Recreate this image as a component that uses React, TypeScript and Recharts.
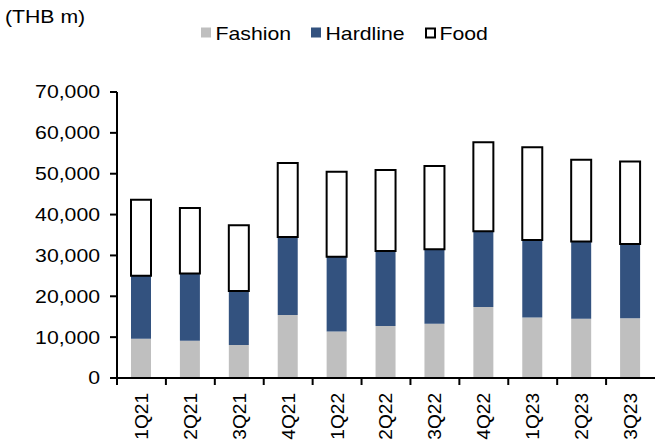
import { BarChart, Bar, XAxis, YAxis } from 'recharts'

// Quarterly sales split by division (THB m)
const quarters = ['1Q21', '2Q21', '3Q21', '4Q21', '1Q22', '2Q22', '3Q22', '4Q22', '1Q23', '2Q23', '3Q23']
const fashion = [9600, 9100, 8100, 15400, 11400, 12700, 13300, 17400, 14800, 14500, 14600]
const hardline = [15400, 16500, 13200, 19100, 18300, 18400, 18200, 18500, 19000, 18900, 18200]
const food = [18600, 16000, 16100, 18100, 20800, 19800, 20400, 21800, 22700, 20000, 20200]
const yTicks = [0, 10000, 20000, 30000, 40000, 50000, 60000, 70000]

const series = [
  { key: 'fashion', name: 'Fashion', fill: '#BFBFBF', stroke: 'none' },
  { key: 'hardline', name: 'Hardline', fill: '#33527F', stroke: 'none' },
  { key: 'food', name: 'Food', fill: '#FFFFFF', stroke: '#000000' },
]

const data = quarters.map((quarter, i) => ({
  quarter,
  fashion: fashion[i],
  hardline: hardline[i],
  food: food[i],
}))

const WIDTH = 655
const HEIGHT = 446
const Y_AXIS_W = 117
const BAND = (WIDTH - Y_AXIS_W) / quarters.length
const FONT = '"Liberation Sans", Arial, sans-serif'
// labels are drawn a little wider than the font's natural width
const STRETCH = 1.18

const textStyle = {
  fontFamily: FONT,
  fontSize: 18,
  fill: '#000',
}

function WideText({ x, y, anchor = 'start', sx = STRETCH, dy, children }: any) {
  return (
    <g transform={`translate(${x},${y}) scale(${sx},1)`}>
      <text x={0} y={0} dy={dy} textAnchor={anchor} {...textStyle}>
        {children}
      </text>
    </g>
  )
}

// category ticks sit between bars, labels are rotated under each bar
function QuarterTick({ x, y, payload }: any) {
  const half = BAND / 2
  return (
    <g transform={`translate(${x},${y})`}>
      <line x1={-half} x2={-half} y1={0} y2={7} stroke="#000" strokeWidth={2} />
      <g transform="translate(0,15) rotate(-90)">
        <WideText x={0} y={0} dy="0.36em" anchor="end" sx={1.06}>
          {payload.value}
        </WideText>
      </g>
    </g>
  )
}

function ValueTick({ x, y, payload }: any) {
  return (
    <WideText x={x} y={y} dy="0.355em" anchor="end">
      {Number(payload.value).toLocaleString('en-US')}
    </WideText>
  )
}

function Legend() {
  const xs = [201, 311, 425]
  return (
    <>
      {series.map((s, i) => (
        <g key={s.key}>
          {s.stroke === 'none' ? (
            <rect x={xs[i]} y={27.5} width={10} height={10} fill={s.fill} />
          ) : (
            <rect x={xs[i] + 1} y={28.5} width={9} height={9} fill={s.fill} stroke={s.stroke} strokeWidth={2} />
          )}
          <WideText x={xs[i] + 14.5} y={40}>
            {s.name}
          </WideText>
        </g>
      ))}
    </>
  )
}

export default function App() {
  return (
    <div style={{ position: 'absolute', left: 0, top: 0, width: WIDTH, height: HEIGHT, background: '#fff' }}>
      <BarChart
        width={WIDTH}
        height={HEIGHT}
        data={data}
        margin={{ top: 92, right: 0, bottom: 0, left: 0 }}
        barSize={20}
      >
        <XAxis
          dataKey="quarter"
          height={68}
          interval={0}
          tickSize={0}
          tickMargin={0}
          tickLine={false}
          axisLine={{ stroke: '#000', strokeWidth: 2 }}
          tick={<QuarterTick />}
        />
        <YAxis
          width={Y_AXIS_W}
          domain={[0, 70000]}
          ticks={yTicks}
          interval={0}
          tickSize={7}
          tickMargin={10}
          tickLine={{ stroke: '#000', strokeWidth: 2 }}
          axisLine={{ stroke: '#000', strokeWidth: 2 }}
          tick={<ValueTick />}
        />
        {series.map((s) => (
          <Bar
            key={s.key}
            dataKey={s.key}
            name={s.name}
            stackId="sales"
            fill={s.fill}
            stroke={s.stroke}
            strokeWidth={s.stroke === 'none' ? 0 : 2}
            isAnimationActive={false}
          />
        ))}
      </BarChart>
      <svg
        width={WIDTH}
        height={60}
        style={{ position: 'absolute', left: 0, top: 0, pointerEvents: 'none' }}
      >
        <WideText x={5} y={23}>
          (THB m)
        </WideText>
        <Legend />
      </svg>
    </div>
  )
}
